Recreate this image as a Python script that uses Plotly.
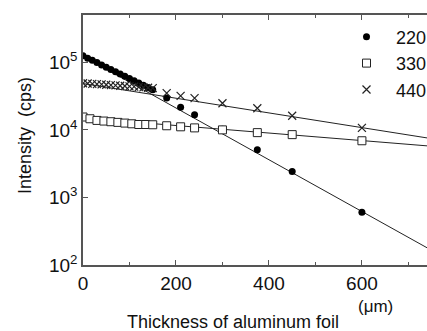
import plotly.graph_objects as go

# ---- data ----
x_220 = [0, 10, 20, 30, 40, 50, 60, 70, 80, 90, 100, 110, 120, 130, 140, 150,
         180, 210, 240, 300, 375, 450, 600]
y_220 = [124700, 115000, 107000, 99000, 91500, 84700, 78500, 72600, 67300, 62200,
         57700, 53300, 49400, 45700, 42400, 39200, 29500, 21700, 16700, 10200,
         5060, 2410, 603]

x_330 = [0, 15, 30, 45, 60, 75, 90, 105, 120, 135, 150, 180, 210, 240, 300,
         375, 450, 600]
y_330 = [15500, 14600, 13800, 13500, 13200, 12900, 12600, 12300, 12000, 12000,
         11900, 11500, 11100, 10700, 10000, 9100, 8500, 6900]

x_440 = [0, 10, 20, 30, 40, 50, 60, 70, 80, 90, 100, 110, 120, 130, 140, 150,
         180, 210, 240, 300, 375, 450, 600]
y_440 = [49000, 48500, 48000, 47500, 47000, 46500, 46000, 45500, 45000, 44600,
         44100, 43600, 43100, 42600, 42000, 41400, 35000, 31900, 29500, 24800,
         20900, 16200, 10700]

# fitted straight lines (end points)
fit_x = [0, 740]
fit_220 = [123000, 180]
fit_330 = [15000, 5800]
fit_440 = [48500, 7600]

series_names = ["220", "330", "440"]
x_ticks = [0, 200, 400, 600]
y_ticks = [100, 1000, 10000, 100000]
y_tick_text = ["10<sup>2</sup>", "10<sup>3</sup>", "10<sup>4</sup>", "10<sup>5</sup>"]

W, H = 427, 331
ML, MT, MB, MR = 83, 15, 66, 0
PW, PH = W - ML - MR, H - MT - MB


def px_x(px):
    return (px - ML) / PW


def px_y(py):
    return (H - MB - py) / PH


font = "Liberation Sans, Arial, Helvetica, sans-serif"
fig = go.Figure()

for fy in (fit_220, fit_330, fit_440):
    fig.add_trace(go.Scatter(x=fit_x, y=fy, mode="lines",
                             line=dict(color="#222", width=1), showlegend=False,
                             hoverinfo="skip"))

fig.add_trace(go.Scatter(x=x_220, y=y_220, mode="markers", name=series_names[0],
                         marker=dict(symbol="circle", size=7, color="black")))
fig.add_trace(go.Scatter(x=x_330, y=y_330, mode="markers", name=series_names[1],
                         marker=dict(symbol="square", size=8, color="white",
                                     line=dict(color="#222", width=1))))
fig.add_trace(go.Scatter(x=x_440, y=y_440, mode="markers", name=series_names[2],
                         marker=dict(symbol="x-thin", size=8, color="#222",
                                     line=dict(color="#222", width=1.2))))

fig.update_layout(
    width=W, height=H,
    margin=dict(l=ML, r=MR, t=MT, b=MB, pad=0, autoexpand=False),
    paper_bgcolor="white", plot_bgcolor="white",
    font=dict(family=font, color="#111", size=18),
    xaxis=dict(range=[0, 740], tickvals=x_ticks, ticks="inside", ticklen=5,
               tickcolor="#555", tickwidth=1.2, automargin=False,
               showline=True, linecolor="#555", linewidth=1.5, mirror="ticks",
               showgrid=False, zeroline=False,
               minor=dict(tickvals=[100, 300, 500, 700], ticks="inside", ticklen=3,
                          tickcolor="#555", tickwidth=1.2),
               tickfont=dict(size=19)),
    yaxis=dict(type="log", range=[2, 5.7], tickvals=y_ticks, ticktext=y_tick_text,
               ticks="inside", ticklen=5, tickcolor="#555", tickwidth=1.2,
               automargin=False,
               showline=True, linecolor="#555", linewidth=1.5,
               showgrid=False, zeroline=False, tickfont=dict(size=19)),
    yaxis2=dict(type="log", range=[2, 5.7], tickvals=y_ticks, showticklabels=False,
                ticks="inside", ticklen=5, tickcolor="#555", tickwidth=1.2,
                overlaying="y", side="right", showline=False, showgrid=False,
                zeroline=False, automargin=False),
    legend=dict(x=1.0 + 5 / PW, y=px_y(18.5), xanchor="right", yanchor="top",
                bgcolor="rgba(0,0,0,0)", font=dict(size=18), tracegroupgap=0,
                borderwidth=0, itemwidth=49),
    showlegend=True,
)

fig.add_annotation(text="Intensity\u00a0\u00a0(cps)", xref="paper", yref="paper",
                   x=px_x(25), y=px_y(136), showarrow=False, textangle=-90,
                   font=dict(size=18), xanchor="center", yanchor="middle")
fig.add_annotation(text="Thickness of aluminum foil", xref="paper", yref="paper",
                   x=px_x(233), y=px_y(322), showarrow=False,
                   font=dict(size=18), xanchor="center", yanchor="middle")
fig.add_annotation(text="(\u03bcm)", xref="paper", yref="paper",
                   x=px_x(375), y=px_y(306), showarrow=False,
                   font=dict(size=17), xanchor="center", yanchor="middle")

fig.write_html("out.html", config={"displayModeBar": False},
               post_script="document.body.style.margin='0';"
                           "document.body.style.overflow='hidden';")
